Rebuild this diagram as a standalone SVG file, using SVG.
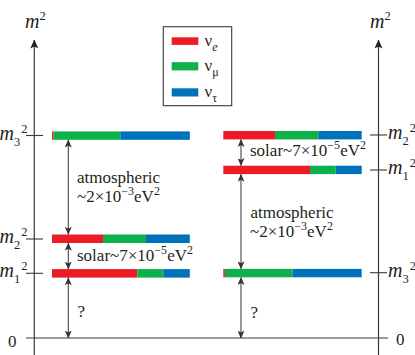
<svg xmlns="http://www.w3.org/2000/svg" width="415" height="355" viewBox="0 0 415 355" font-family="'Liberation Serif', 'DejaVu Serif', serif">
  <style>
    text { font-family: 'Liberation Serif', 'DejaVu Serif', serif; fill: #231f20; }
    .ann { font-size: 17px; }
    .m { font-size: 20px; font-style: italic; }
    .s { font-size: 12.5px; font-style: normal; }
    .axis { stroke: #3a3a3a; stroke-width: 1.2; fill: none; }
    .tick { stroke: #3a3a3a; stroke-width: 1.1; }
    .conn { stroke: #444; stroke-width: 1.1; fill: none; marker-start: url(#ah); marker-end: url(#ah); }
    .r { fill: #ed1c24; }
    .g { fill: #0db14b; }
    .b { fill: #0072bc; }
  </style>
  <defs>
    <marker id="ah" viewBox="0 0 8 7" refX="7.5" refY="3.5" markerWidth="8" markerHeight="7" markerUnits="userSpaceOnUse" orient="auto-start-reverse">
      <path d="M0,0 L8,3.5 L0,7 L2,3.5 z" fill="#333"/>
    </marker>
    <marker id="axh" viewBox="0 0 9 8" refX="8.5" refY="4" markerWidth="9" markerHeight="8" markerUnits="userSpaceOnUse" orient="auto">
      <path d="M0,0 L9,4 L0,8 L2,4 z" fill="#222"/>
    </marker>
  </defs>

  <g id="axes">
    <line class="axis" x1="34.3" y1="355" x2="34.3" y2="40" marker-end="url(#axh)"/>
    <line class="axis" x1="378.5" y1="355" x2="378.5" y2="40" marker-end="url(#axh)"/>
    <line class="axis" x1="26" y1="338" x2="388" y2="338"/>
    <text class="m" x="25" y="27.7">m<tspan class="s" dy="-8">2</tspan></text>
    <text class="m" x="370" y="27.7">m<tspan class="s" dy="-8">2</tspan></text>
    <text class="ann" x="8" y="346.5">0</text>
    <text class="ann" x="396" y="345">0</text>
    <line class="tick" x1="26" y1="135.5" x2="43" y2="135.5"/>
    <line class="tick" x1="26" y1="239" x2="43" y2="239"/>
    <line class="tick" x1="26" y1="273.3" x2="43" y2="273.3"/>
    <line class="tick" x1="370" y1="135" x2="387" y2="135"/>
    <line class="tick" x1="370" y1="170" x2="387" y2="170"/>
    <line class="tick" x1="370" y1="272.7" x2="387" y2="272.7"/>
    <text class="m" x="-0.5" y="139.5">m<tspan class="s" dy="6">3</tspan><tspan class="s" dx="1" dy="-13">2</tspan></text>
    <text class="m" x="-0.5" y="243">m<tspan class="s" dy="6">2</tspan><tspan class="s" dx="1" dy="-13">2</tspan></text>
    <text class="m" x="-0.5" y="277.3">m<tspan class="s" dy="6">1</tspan><tspan class="s" dx="1" dy="-13">2</tspan></text>
    <text class="m" x="388" y="139">m<tspan class="s" dy="6">2</tspan><tspan class="s" dx="1" dy="-13">2</tspan></text>
    <text class="m" x="388" y="174">m<tspan class="s" dy="6">1</tspan><tspan class="s" dx="1" dy="-13">2</tspan></text>
    <text class="m" x="388" y="276.7">m<tspan class="s" dy="6">3</tspan><tspan class="s" dx="1" dy="-13">2</tspan></text>
  </g>

  <g id="legend">
    <rect x="163.3" y="26.7" width="68.4" height="79" fill="#fff" stroke="#3a3a3a" stroke-width="1.1"/>
    <rect class="r" x="171.7" y="37.3" width="26.6" height="7.6"/>
    <rect class="g" x="171.7" y="62.2" width="26.6" height="8.2"/>
    <rect class="b" x="171.7" y="88.3" width="26.6" height="8.2"/>
    <text class="ann" x="204.5" y="45.5">ν<tspan font-size="12" font-style="italic" dy="5">e</tspan></text>
    <text class="ann" x="204.5" y="70.5">ν<tspan font-size="12" dy="5">μ</tspan></text>
    <text class="ann" x="204.5" y="96.5">ν<tspan font-size="12" dy="5">τ</tspan></text>
  </g>

  <g id="normal-m3">
    <rect class="r" x="52" y="131.4" width="1.6" height="8.4"/>
    <rect class="g" x="53.6" y="131.4" width="66.7" height="8.4"/>
    <rect class="b" x="120.3" y="131.4" width="69.5" height="8.4"/>
  </g>
  <g id="normal-m2">
    <rect class="r" x="52" y="234.5" width="51" height="8.5"/>
    <rect class="g" x="103" y="234.5" width="43" height="8.5"/>
    <rect class="b" x="146" y="234.5" width="43.8" height="8.5"/>
  </g>
  <g id="normal-m1">
    <rect class="r" x="52" y="269.1" width="85.3" height="8.5"/>
    <rect class="g" x="137.3" y="269.1" width="26" height="8.5"/>
    <rect class="b" x="163.3" y="269.1" width="26.5" height="8.5"/>
  </g>
  <g id="inverted-m2">
    <rect class="r" x="223.3" y="131" width="51.7" height="8.4"/>
    <rect class="g" x="275" y="131" width="43.3" height="8.4"/>
    <rect class="b" x="318.3" y="131" width="43.4" height="8.4"/>
  </g>
  <g id="inverted-m1">
    <rect class="r" x="223.3" y="165.7" width="86.7" height="8.4"/>
    <rect class="g" x="310" y="165.7" width="25.7" height="8.4"/>
    <rect class="b" x="335.7" y="165.7" width="26" height="8.4"/>
  </g>
  <g id="inverted-m3">
    <rect class="r" x="223.3" y="268.9" width="1.6" height="8.4"/>
    <rect class="g" x="224.9" y="268.9" width="67.8" height="8.4"/>
    <rect class="b" x="292.7" y="268.9" width="69" height="8.4"/>
  </g>

  <g id="connectors">
    <line class="conn" x1="68.3" y1="140" x2="68.3" y2="234.3"/>
    <line class="conn" x1="68.3" y1="243.2" x2="68.3" y2="269"/>
    <line class="conn" x1="68.3" y1="277.8" x2="68.3" y2="338"/>
    <line class="conn" x1="241" y1="139.6" x2="241" y2="165.6"/>
    <line class="conn" x1="241" y1="174.3" x2="241" y2="268.8"/>
    <line class="conn" x1="241" y1="277.5" x2="241" y2="338"/>
  </g>

  <g id="labels">
    <text class="ann" x="77" y="183">atmospheric</text>
    <text class="ann" x="77" y="202">~2×10<tspan font-size="12" dy="-7">−3</tspan><tspan dy="7">eV</tspan><tspan font-size="12" dy="-7">2</tspan></text>
    <text class="ann" x="77" y="261">solar~7×10<tspan font-size="12" dy="-7">−5</tspan><tspan dy="7">eV</tspan><tspan font-size="12" dy="-7">2</tspan></text>
    <text class="ann" x="77.5" y="317">?</text>
    <text class="ann" x="250" y="156">solar~7×10<tspan font-size="12" dy="-7">−5</tspan><tspan dy="7">eV</tspan><tspan font-size="12" dy="-7">2</tspan></text>
    <text class="ann" x="250.5" y="218">atmospheric</text>
    <text class="ann" x="250" y="237">~2×10<tspan font-size="12" dy="-7">−3</tspan><tspan dy="7">eV</tspan><tspan font-size="12" dy="-7">2</tspan></text>
    <text class="ann" x="250.5" y="317.5">?</text>
  </g>
</svg>
